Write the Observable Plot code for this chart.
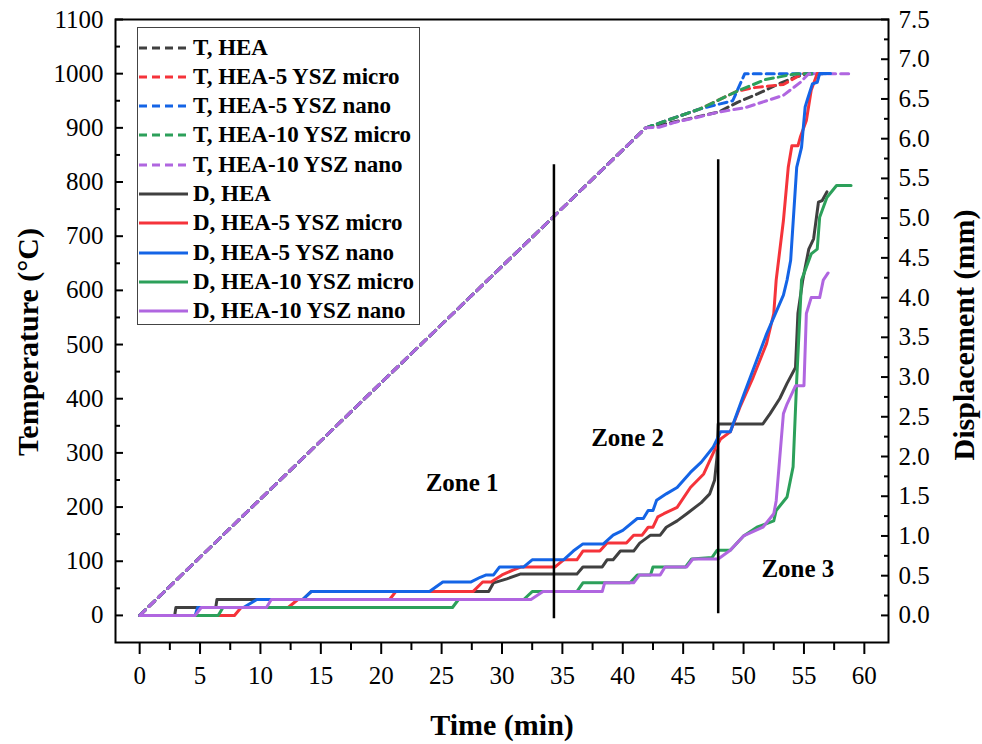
<!DOCTYPE html>
<html><head><meta charset="utf-8">
<script src="https://cdn.jsdelivr.net/npm/d3@7"></script>
<script src="https://cdn.jsdelivr.net/npm/@observablehq/plot@0.6"></script>
<style>
body{margin:0;background:#fff;}
#wrap{position:relative;width:982px;height:744px;font-family:"Liberation Serif","Times New Roman",serif;}
#legend{position:absolute;left:137px;top:27px;width:283px;height:298px;border:1px solid #444;background:#fff;box-sizing:border-box;}
.row{position:absolute;left:0;height:29px;display:flex;align-items:center;font-weight:bold;font-size:23px;color:#000;white-space:nowrap;}
.row svg{margin-right:4px;}
</style></head>
<body><div id="wrap"><div id="legend"></div></div>
<script>
// ---- Data (time in min) ----
const seriesNames = ["HEA", "HEA-5 YSZ micro", "HEA-5 YSZ nano", "HEA-10 YSZ micro", "HEA-10 YSZ nano"];
const seriesColors = ["#404040", "#f5333a", "#1464e6", "#2ca05a", "#b066e0"];

// Temperature (°C)
const T_HEA = [[0,0],[41.9,900],[45.3,916],[47.9,929],[49.5,947],[51.2,963],[52.9,981],[54.3,994],[55.4,1000],[56.2,1000]];
const T_5micro = [[0,0],[41.9,900],[46.4,935],[49.4,967],[50.8,974],[53.3,980],[54.7,998],[55.0,1000],[56.3,1000]];
const T_5nano = [[0,0],[41.9,900],[46.4,935],[49.1,950],[50.1,1000],[57.2,1000]];
const T_10micro = [[0,0],[41.9,900],[46.4,935],[49.4,967],[51.8,989],[53.9,998],[54.4,1000],[56.5,1000]];
const T_10nano = [[0,0],[41.9,900],[43.0,901],[44.3,910],[46.3,920],[47.9,929],[50.1,937],[53.3,960],[54.7,984],[55.4,1000],[58.8,1000]];

// Displacement (mm)
const D_HEA = [[0,0],[2.9,0],[3.0,0.1],[6.3,0.1],[6.4,0.2],[13.5,0.2],[14.2,0.3],[28.9,0.3],[29.3,0.41],[30.4,0.46],[31.5,0.52],[36.2,0.52],[36.7,0.61],[38.3,0.61],[38.7,0.70],[39.2,0.70],[39.8,0.81],[40.9,0.81],[41.4,0.91],[42.3,1.01],[43.1,1.01],[43.6,1.11],[44.5,1.19],[45.3,1.28],[46.5,1.42],[47.2,1.53],[47.6,1.70],[47.8,1.99],[47.9,2.41],[51.6,2.41],[52.2,2.54],[53.0,2.73],[53.6,2.92],[54.3,3.12],[54.5,3.80],[54.9,4.22],[55.4,4.61],[55.8,4.74],[56.2,5.20],[56.5,5.22],[56.9,5.33]];
const D_5micro = [[0,0],[7.85,0],[8.4,0.1],[12.3,0.1],[13.1,0.2],[20.7,0.2],[21.2,0.3],[27.6,0.3],[28.4,0.42],[29.1,0.42],[30.0,0.51],[30.9,0.57],[31.6,0.61],[34.4,0.61],[35.1,0.70],[36.2,0.70],[36.7,0.81],[38.1,0.81],[38.7,0.91],[40.3,0.91],[40.9,1.01],[41.6,1.01],[42.1,1.11],[42.5,1.11],[42.9,1.24],[43.4,1.28],[44.5,1.36],[45.6,1.61],[46.7,1.78],[47.6,2.08],[48.1,2.22],[48.9,2.31],[49.7,2.62],[50.8,3.00],[51.9,3.42],[52.5,3.80],[52.7,4.22],[53.3,4.97],[53.7,5.64],[54.0,5.91],[54.5,5.91],[54.7,6.02],[55.2,6.23],[55.6,6.61],[56.1,6.82],[56.5,6.82]];
const D_5nano = [[0,0],[4.6,0],[4.8,0.1],[8.6,0.1],[9.7,0.2],[13.5,0.2],[14.2,0.3],[24.0,0.3],[25.1,0.42],[27.4,0.42],[28.2,0.48],[28.7,0.51],[29.3,0.51],[29.8,0.61],[31.8,0.61],[32.5,0.70],[35.1,0.70],[35.9,0.81],[36.7,0.90],[38.4,0.90],[39.2,1.01],[40.0,1.07],[41.2,1.22],[41.7,1.22],[42.1,1.32],[42.5,1.32],[42.8,1.45],[43.6,1.53],[44.5,1.61],[45.6,1.80],[46.5,1.93],[47.5,2.12],[48.1,2.31],[48.9,2.31],[50.0,2.77],[51.9,3.54],[53.3,4.03],[53.6,4.22],[53.9,4.47],[54.4,5.64],[54.8,5.89],[55.1,6.40],[55.3,6.50],[55.7,6.69],[56.1,6.71],[56.3,6.82],[57.2,6.82]];
const D_10micro = [[0,0],[6.5,0],[6.9,0.1],[25.9,0.1],[26.4,0.2],[31.8,0.2],[32.5,0.3],[36.2,0.3],[36.7,0.41],[40.6,0.41],[41.2,0.51],[42.3,0.51],[42.5,0.61],[45.2,0.61],[45.7,0.71],[47.4,0.73],[47.8,0.82],[48.9,0.82],[50.0,1.0],[51.1,1.11],[52.5,1.19],[52.7,1.32],[53.6,1.49],[54.1,1.87],[54.4,2.96],[54.8,4.22],[55.6,4.55],[56.1,4.61],[56.3,5.01],[56.9,5.26],[57.7,5.41],[58.9,5.41]];
const D_10nano = [[0,0],[4.6,0],[5.1,0.1],[10.5,0.1],[10.9,0.2],[32.4,0.2],[33.4,0.3],[38.3,0.3],[38.5,0.41],[40.9,0.41],[41.4,0.51],[43.1,0.51],[43.5,0.61],[45.3,0.61],[45.8,0.71],[47.9,0.71],[48.9,0.82],[50.0,1.0],[51.6,1.11],[52.5,1.28],[52.7,1.44],[53.3,2.54],[53.6,2.66],[54.3,2.89],[55.0,2.89],[55.2,3.80],[55.6,4.0],[56.3,4.0],[56.6,4.22],[57.0,4.31]];

// Zone dividers and labels
const zoneLines = [{t: 34.3, from: -6, to: 832}, {t: 47.9, from: 3, to: 841}];
const zoneLabels = [{t: 26.7, T: 245, text: "Zone 1"}, {t: 40.4, T: 328, text: "Zone 2"}, {t: 54.5, T: 85, text: "Zone 3"}];

// Axis ticks
const xTicks = d3.range(0, 61, 5);
const xMinor = d3.range(2.5, 61, 5);
const yTicks = d3.range(0, 1101, 100);
const yMinor = d3.range(50, 1100, 100);
const dTicks = d3.range(0, 7.51, 0.5);
const dMinor = d3.range(0.25, 7.5, 0.5);

const K = 1100 / 7.5; // mm -> °C scale mapping for the right axis
const Tser = [T_HEA, T_5micro, T_5nano, T_10micro, T_10nano];
const Dser = [D_HEA, D_5micro, D_5nano, D_10micro, D_10nano];
const dash = "8,5";

const marks = [];
Tser.forEach((s, i) => marks.push(Plot.line(s, {x: d => d[0], y: d => d[1], stroke: seriesColors[i], strokeWidth: 3, strokeDasharray: dash})));
Dser.forEach((s, i) => marks.push(Plot.line(s, {x: d => d[0], y: d => d[1] * K, stroke: seriesColors[i], strokeWidth: 3})));
marks.push(Plot.ruleX(zoneLines, {x: "t", y1: "from", y2: "to", stroke: "#000", strokeWidth: 2.5}));
marks.push(Plot.text(zoneLabels, {x: "t", y: "T", text: "text", fontSize: 25, fontWeight: "bold", fill: "#000"}));

const bold = {fontWeight: "bold", fill: "#000", fontSize: 30, textAnchor: "middle", lineAnchor: "middle"};
marks.push(
  Plot.axisX({ticks: xTicks, tickSize: 12, tickPadding: 12, fontSize: 25, strokeWidth: 2, label: null}),
  Plot.axisX({ticks: xMinor, tickSize: 8, tickFormat: () => "", strokeWidth: 2, label: null}),
  Plot.axisY({ticks: yTicks, tickSize: 0, tickPadding: 12, fontSize: 25, tickFormat: d => String(d), label: null}),
  Plot.axisY({ticks: yTicks, tickSize: -8, tickFormat: () => "", strokeWidth: 2, label: null}),
  Plot.axisY({ticks: yMinor, tickSize: -5, tickFormat: () => "", strokeWidth: 2, label: null}),
  Plot.axisY({anchor: "right", ticks: dTicks.map(d => d * K), tickFormat: d => (d / K).toFixed(1), tickSize: 0, tickPadding: 10, fontSize: 25, label: null}),
  Plot.axisY({anchor: "right", ticks: dTicks.map(d => d * K), tickSize: -8, tickFormat: () => "", strokeWidth: 2, label: null}),
  Plot.axisY({anchor: "right", ticks: dMinor.map(d => d * K), tickSize: -5, tickFormat: () => "", strokeWidth: 2, label: null}),
  Plot.frame({stroke: "#000", strokeWidth: 2}),
  Plot.text(["Time (min)"], {frameAnchor: "bottom", dy: 83, ...bold}),
  Plot.text(["Temperature (°C)"], {frameAnchor: "left", rotate: -90, dx: -87, dy: 11, ...bold}),
  Plot.text(["Displacement (mm)"], {frameAnchor: "right", rotate: -90, dx: 76, dy: 4, ...bold})
);

const chart = Plot.plot({
  width: 982, height: 744,
  marginLeft: 115, marginRight: 94, marginTop: 19, marginBottom: 102,
  x: {domain: [-2, 62]},
  y: {domain: [-50, 1100]},
  style: {fontFamily: "'Liberation Serif', 'Times New Roman', serif", color: "#000", background: "#fff", overflow: "visible"},
  marks
});
const wrap = document.getElementById("wrap");
wrap.insertBefore(chart, wrap.firstChild);

// Legend (overlay inside the plot area)
const legend = document.getElementById("legend");
const entries = [
  ...seriesNames.map((n, i) => ({label: "T, " + n, color: seriesColors[i], dashed: true})),
  ...seriesNames.map((n, i) => ({label: "D, " + n, color: seriesColors[i], dashed: false}))
];
entries.forEach((e, i) => {
  const row = document.createElement("div");
  row.className = "row";
  row.style.top = (5 + i * 29.3) + "px";
  row.innerHTML = `<svg width="51" height="10"><line x1="1" x2="50" y1="5" y2="5" stroke="${e.color}" stroke-width="3" ${e.dashed ? `stroke-dasharray="${dash}"` : ""}/></svg><span>${e.label}</span>`;
  legend.appendChild(row);
});
</script></body></html>
